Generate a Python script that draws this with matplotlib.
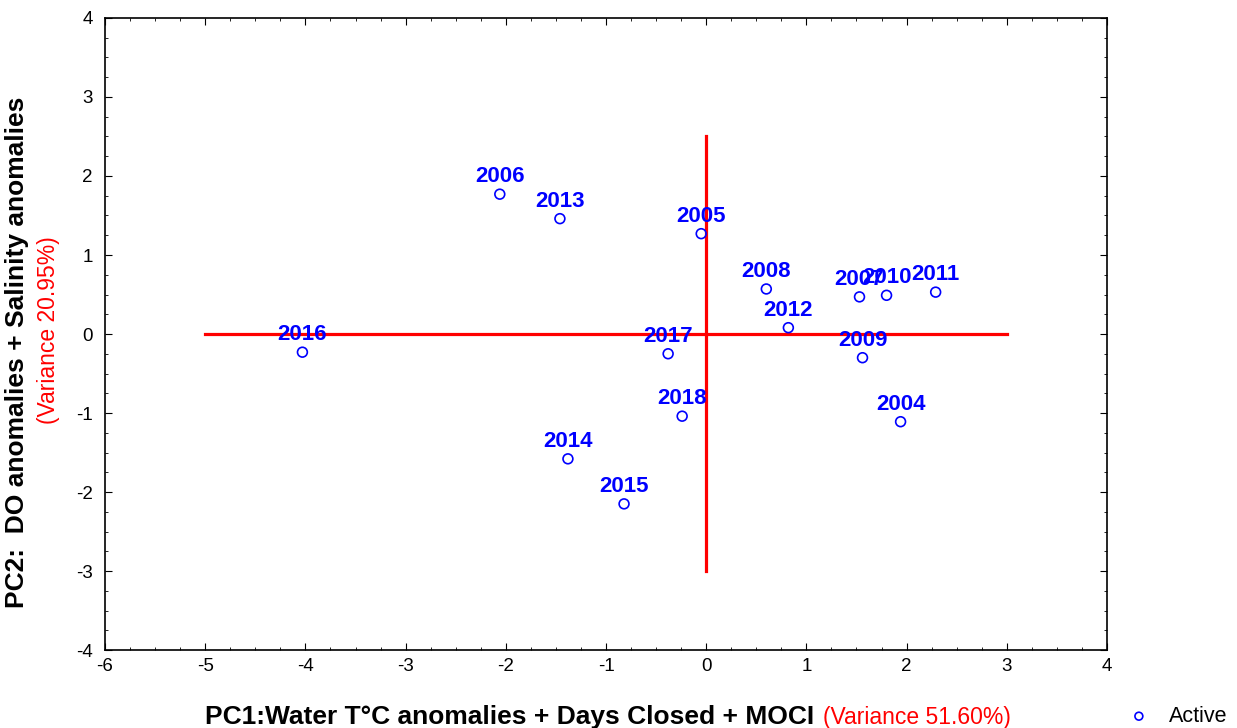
import matplotlib.pyplot as plt
from matplotlib.ticker import MultipleLocator

plt.rcParams['font.family'] = ['Liberation Sans', 'DejaVu Sans']
plt.rcParams['axes.unicode_minus'] = False

years = ['2004', '2005', '2006', '2007', '2008', '2009', '2010', '2011',
         '2012', '2013', '2014', '2015', '2016', '2017', '2018']
pc1 = [1.94, -0.05, -2.06, 1.53, 0.60, 1.56, 1.80, 2.29,
       0.82, -1.46, -1.38, -0.82, -4.03, -0.38, -0.24]
pc2 = [-1.11, 1.27, 1.77, 0.47, 0.57, -0.30, 0.49, 0.53,
       0.08, 1.46, -1.58, -2.15, -0.23, -0.25, -1.04]

fig = plt.figure(figsize=(12.37, 7.28), dpi=100)
ax = fig.add_axes([0.0849, 0.1071, 0.81, 0.8682])

# red cross through origin
ax.plot([-5, 3], [0, 0], color='red', lw=2.3, zorder=2)
ax.plot([0, 0], [-3, 2.5], color='red', lw=2.3, zorder=2)

ax.scatter(pc1, pc2, s=50, facecolors='none', edgecolors='blue', linewidths=1.2,
           zorder=3, label='Active')
for x, y, t in zip(pc1, pc2, years):
    ax.annotate(t, (x, y), xytext=(0, 8.5), textcoords='offset points',
                ha='center', va='baseline', color='blue', fontsize=16,
                fontweight='bold', zorder=4)

ax.set_xlim(-6, 4)
ax.set_ylim(-4, 4)
ax.xaxis.set_major_locator(MultipleLocator(1))
ax.yaxis.set_major_locator(MultipleLocator(1))
ax.xaxis.set_minor_locator(MultipleLocator(0.25))
ax.yaxis.set_minor_locator(MultipleLocator(0.25))
ax.tick_params(which='both', direction='in', top=True, right=True, labelsize=13.5)
ax.tick_params(axis='y', pad=9)
ax.tick_params(axis='x', pad=6)
ax.tick_params(which='major', length=5)
ax.tick_params(which='minor', length=2.5)
for sp in ax.spines.values():
    sp.set_linewidth(1.2)

# x-axis label: bold black + red variance
fig.text(0.1655, -0.002, 'PC1:Water T\u00b0C anomalies + Days Closed + MOCI',
         fontsize=19, fontweight='bold', color='black', ha='left', va='bottom')
fig.text(0.665, -0.002, '(Variance 51.60%)', fontsize=16.5, color='red',
         ha='left', va='bottom')

# y-axis label: two lines
fig.text(0.004, 0.516, 'PC2:  DO anomalies + Salinity anomalies', rotation=90,
         fontsize=19, fontweight='bold', color='black', ha='left', va='center')
fig.text(0.030, 0.547, '(Variance 20.95%)', rotation=90, fontsize=16.5,
         color='red', ha='left', va='center')

fig.legend(loc='lower right', bbox_to_anchor=(1.008, -0.025), frameon=False,
           fontsize=15.5, handletextpad=0.4, markerscale=0.8)

fig.savefig('out.png', dpi=100)
